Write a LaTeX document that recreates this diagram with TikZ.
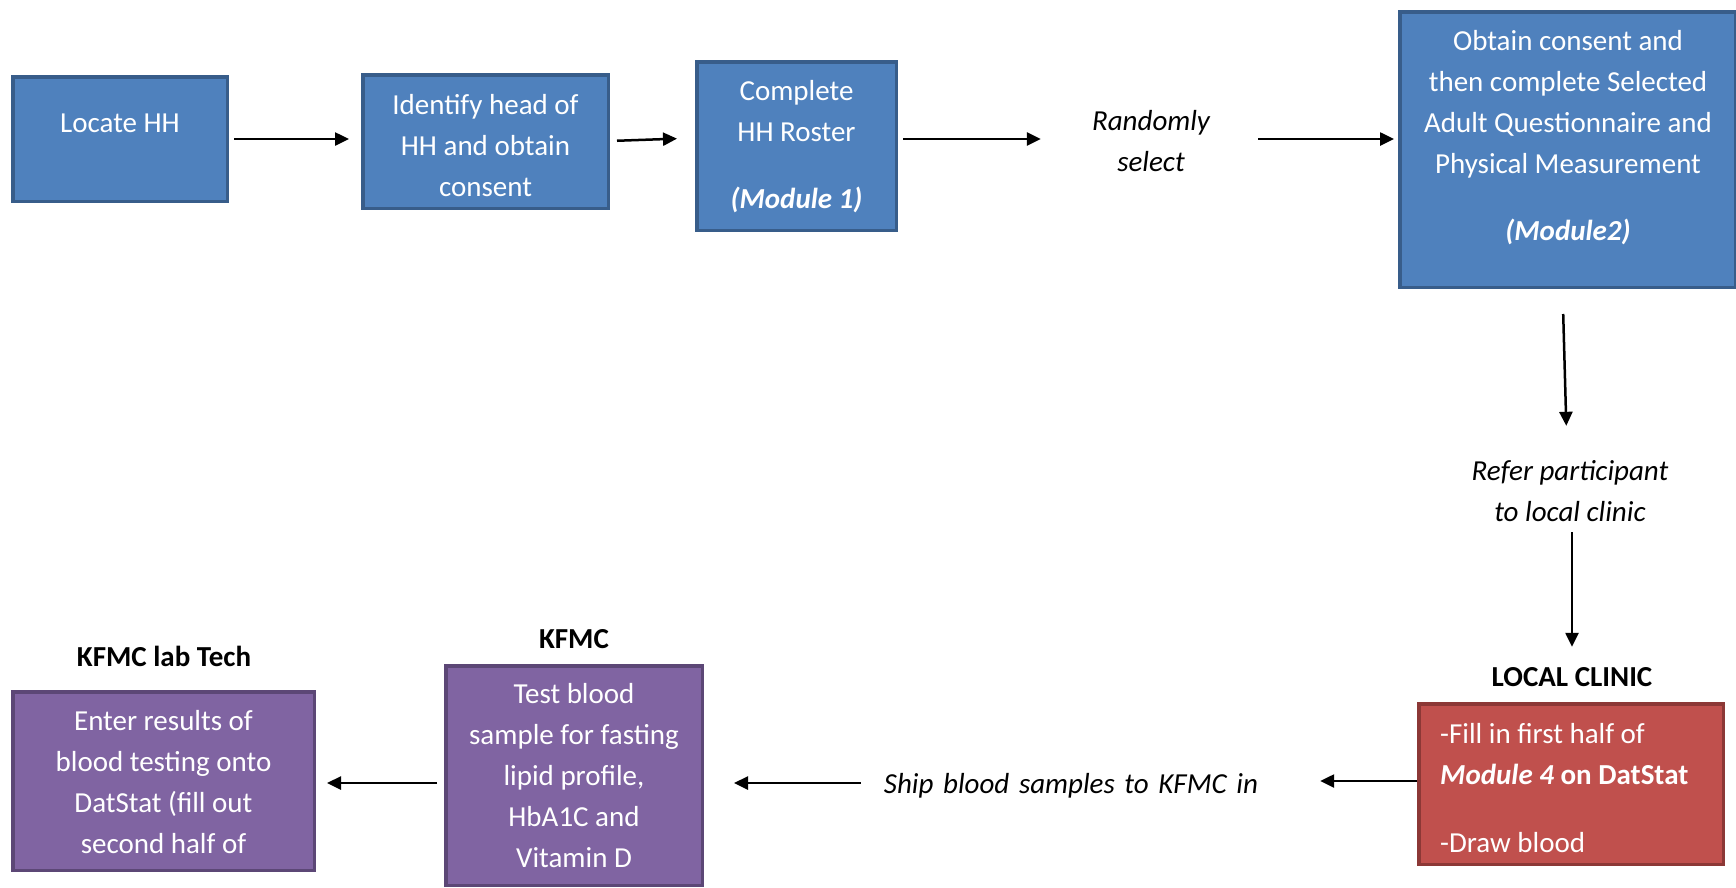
\documentclass[tikz,border=0pt]{standalone}
\usepackage{fontspec}
\setmainfont{Carlito}
\usetikzlibrary{arrows.meta}
\definecolor{bfill}{HTML}{4F81BD}
\definecolor{bline}{HTML}{385D8A}
\definecolor{pfill}{HTML}{8064A2}
\definecolor{pline}{HTML}{5C4776}
\definecolor{rfill}{HTML}{C0504D}
\definecolor{rline}{HTML}{8C3836}
\tikzset{
  boxbase/.style={rectangle, inner sep=0pt, line width=3.5pt},
  bluebox/.style={boxbase, fill=bfill, draw=bline},
  purplebox/.style={boxbase, fill=pfill, draw=pline},
  redbox/.style={boxbase, fill=rfill, draw=rline},
  wtxt/.style={text=white, inner sep=0pt, align=center, font=\fontsize{29}{41}\selectfont},
  btxt/.style={text=black, inner sep=0pt, align=center, font=\fontsize{29}{41}\selectfont\itshape},
  lbl/.style={text=black, inner sep=0pt, align=center, font=\fontsize{29}{41}\selectfont\bfseries},
  arr/.style={-{Triangle[length=14pt,width=13pt]}, line width=2.5pt, black}
}
\begin{document}
\begin{tikzpicture}[x=1pt,y=-1pt]
\useasboundingbox (0,0) rectangle (1736,887);
% boxes
\node[bluebox, minimum width=214.5pt, minimum height=124.5pt] (locate) at (120,139) {};
\node[bluebox, minimum width=245.5pt, minimum height=133.5pt] (ident) at (485.5,141.5) {};
\node[bluebox, minimum width=199.5pt, minimum height=168.5pt] (compl) at (796.5,146) {};
\node[bluebox, minimum width=335.5pt, minimum height=275.5pt] (obtain) at (1567.5,149.5) {};
\node[redbox, minimum width=304.5pt, minimum height=160.5pt] (clinic) at (1571,784) {};
\node[purplebox, minimum width=256.5pt, minimum height=219.5pt] (kfmc) at (574,775.5) {};
\node[purplebox, minimum width=301.5pt, minimum height=178.5pt] (enter) at (163.5,781) {};
% box texts
\node[wtxt] (tlocate) at (120,124) {\strut Locate HH};
\node[wtxt] (tident) at (485.5,147) {\strut Identify head of\\HH and obtain\\consent\strut};
\node[wtxt] (tcompl) at (796.5,112.5) {\strut Complete\\HH Roster\strut};
\node[wtxt] (tmod1) at (796.5,200) {\strut\bfseries\itshape (Module 1)};
\node[wtxt] (tobtain) at (1568,104) {\strut Obtain consent and\\then complete Selected\\Adult Questionnaire and\\Physical Measurement\strut};
\node[wtxt] (tmod2) at (1568,232) {\strut\bfseries\itshape (Module2)};
\node[wtxt, anchor=west, align=left] (tclinic) at (1440,756) {\strut -Fill in first half of\\\textbf{\textit{Module 4}} \textbf{on DatStat}\strut};
\node[wtxt, anchor=west, align=left] (tdraw) at (1440,844) {\strut -Draw blood};
\node[wtxt] (tkfmc) at (574,777.5) {\strut Test blood\\sample for fasting\\lipid profile,\\HbA1C and\\Vitamin D\strut};
\node[wtxt] (tenter) at (163.5,784) {\strut Enter results of\\blood testing onto\\DatStat (fill out\\second half of\strut};
% free labels
\node[btxt, text width=118pt] (rand) at (1151,142.5) {\strut Randomly\\select\strut};
\node[btxt] (refer) at (1570,492.5) {\strut Refer participant\\to local clinic\strut};
\node[btxt, text width=420pt] (ship) at (1071,785) {\strut Ship blood samples to KFMC in};
\node[lbl] (lclinic) at (1572,678) {\strut LOCAL CLINIC};
\node[lbl] (lkfmc) at (574,640) {\strut KFMC};
\node[lbl] (ltech) at (164,658) {\strut KFMC lab Tech};
% connectors
\draw[arr, shorten <=5pt, shorten >=12pt] (locate.east) -- (locate.east -| ident.west);
\draw[arr, shorten <=7pt, shorten >=18pt] ([yshift=0.5pt]ident.east) -- ([yshift=3.5pt]ident.east -| compl.west);
\draw[arr, shorten <=5pt, shorten >=51pt] ([yshift=7pt]compl.east) -- ([yshift=7pt]compl.east -| rand.west);
\draw[arr, shorten <=48pt, shorten >=4pt] ([yshift=7pt]compl.east -| rand.east) -- ([yshift=7pt]compl.east -| obtain.west);
\draw[arr, shorten <=25pt, shorten >=25.5pt] ([xshift=-5pt]obtain.south) -- ([xshift=-3pt]refer.north);
\draw[arr, shorten <=2.5pt, shorten >=10.5pt] (refer.south) -- (refer.south -| lclinic.north) -- (lclinic.north);
\draw[arr, shorten >=39pt] ([yshift=3pt]clinic.west) -- ([yshift=3pt]clinic.west -| ship.east);
\draw[arr, shorten >=30pt] ([yshift=2pt]ship.west) -- ([yshift=2pt]ship.west -| kfmc.east);
\draw[arr, shorten <=7pt, shorten >=11pt] ([yshift=2pt]ship.west -| kfmc.west) -- ([yshift=2pt]ship.west -| enter.east);
\end{tikzpicture}
\end{document}
